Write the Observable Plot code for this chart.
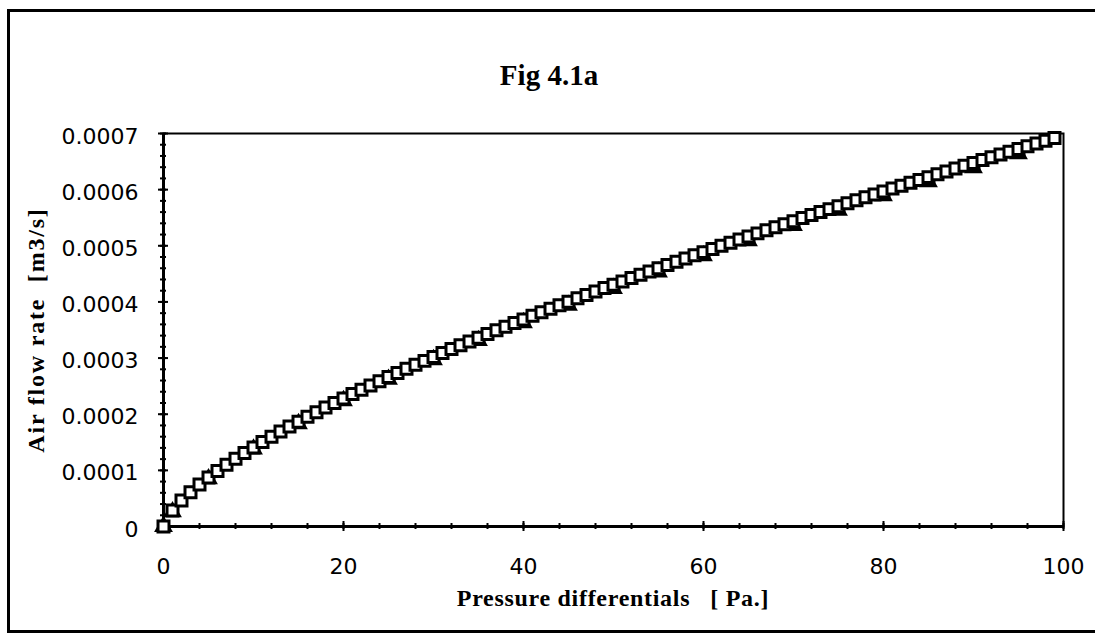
<!DOCTYPE html>
<html><head><meta charset="utf-8">
<script src="https://cdn.jsdelivr.net/npm/d3@7"></script>
<script src="https://cdn.jsdelivr.net/npm/@observablehq/plot@0.6"></script>
<style>
html,body{margin:0;padding:0;background:#fff;overflow:hidden;}
#wrap{position:relative;width:1098px;height:635px;overflow:hidden;background:#fff;}
.ln{position:absolute;background:#000;}
#title{position:absolute;left:0;width:1098px;top:59px;text-align:center;font:bold 29px "Liberation Serif";}
#xlabel{position:absolute;left:263px;width:700px;top:585px;text-align:center;font:bold 24px "Liberation Serif";letter-spacing:0.7px;white-space:pre;}
#ylabel{position:absolute;left:36px;top:330px;transform:translate(-50%,-50%) rotate(-90deg);font:bold 24px "Liberation Serif";letter-spacing:1.8px;white-space:pre;}
#chart{position:absolute;left:0;top:0;}
</style></head><body>
<div id="wrap">
<div class="ln" style="left:7px;top:9px;width:1088px;height:2.5px"></div>
<div class="ln" style="left:7px;top:9px;width:2.5px;height:623px"></div>
<div class="ln" style="left:7px;top:630px;width:1088px;height:2.5px"></div>
<div id="chart"></div>
<div id="title">Fig 4.1a</div>
<div id="xlabel">Pressure differentials   [ Pa.]</div>
<div id="ylabel">Air flow rate  [m3/s]</div>
</div>
<script>
const pressure = [0,1,2,3,4,5,6,7,8,9,10,11,12,13,14,15,16,17,18,19,20,21,22,23,24,25,26,27,28,29,30,31,32,33,34,35,36,37,38,39,40,41,42,43,44,45,46,47,48,49,50,51,52,53,54,55,56,57,58,59,60,61,62,63,64,65,66,67,68,69,70,71,72,73,74,75,76,77,78,79,80,81,82,83,84,85,86,87,88,89,90,91,92,93,94,95,96,97,98,99];
const flowModel = [0,0.285e-4,0.461e-4,0.611e-4,0.746e-4,0.871e-4,0.989e-4,1.100e-4,1.207e-4,1.310e-4,
1.409e-4,1.506e-4,1.600e-4,1.691e-4,1.780e-4,1.867e-4,1.953e-4,2.036e-4,2.119e-4,2.200e-4,
2.280e-4,2.359e-4,2.436e-4,2.512e-4,2.588e-4,2.662e-4,2.735e-4,2.808e-4,2.880e-4,2.950e-4,
3.021e-4,3.090e-4,3.160e-4,3.227e-4,3.295e-4,3.362e-4,3.429e-4,3.494e-4,3.559e-4,3.624e-4,
3.688e-4,3.752e-4,3.816e-4,3.878e-4,3.940e-4,4.003e-4,4.064e-4,4.125e-4,4.186e-4,4.247e-4,
4.306e-4,4.365e-4,4.425e-4,4.484e-4,4.543e-4,4.600e-4,4.659e-4,4.716e-4,4.773e-4,4.830e-4,
4.887e-4,4.944e-4,5.000e-4,5.056e-4,5.111e-4,5.166e-4,5.221e-4,5.277e-4,5.330e-4,5.385e-4,
5.439e-4,5.493e-4,5.547e-4,5.600e-4,5.653e-4,5.706e-4,5.758e-4,5.811e-4,5.863e-4,5.915e-4,
5.967e-4,6.020e-4,6.070e-4,6.121e-4,6.173e-4,6.223e-4,6.274e-4,6.325e-4,6.375e-4,6.425e-4,
6.476e-4,6.526e-4,6.575e-4,6.625e-4,6.674e-4,6.722e-4,6.773e-4,6.820e-4,6.871e-4,6.918e-4];
const pressureMeasured = [0,1,5,10,15,20,25,30,35,40,45,50,55,60,65,70,75,80,85,90,95];
const flowMeasured = [0,0.26e-4,0.85e-4,1.38e-4,1.83e-4,2.24e-4,2.62e-4,2.97e-4,3.31e-4,3.63e-4,3.94e-4,4.24e-4,4.53e-4,4.82e-4,5.09e-4,5.36e-4,5.63e-4,5.89e-4,6.14e-4,6.39e-4,6.64e-4];
const xTicks = [0,20,40,60,80,100];
const xMinor = [0,4,8,12,16,20,24,28,32,36,40,44,48,52,56,60,64,68,72,76,80,84,88,92,96,100];
const yTicks = [0,0.0001,0.0002,0.0003,0.0004,0.0005,0.0006,0.0007];
const yTickLabels = ["0","0.0001","0.0002","0.0003","0.0004","0.0005","0.0006","0.0007"];
const yMinor = [0,0.00002,0.00004,0.00006,0.00008,0.0001,0.00012,0.00014,0.00016,0.00018,0.0002,0.00022,0.00024,0.00026,0.00028,0.0003,0.00032,0.00034,0.00036,0.00038,0.0004,0.00042,0.00044,0.00046,0.00048,0.0005,0.00052,0.00054,0.00056,0.00058,0.0006,0.00062,0.00064,0.00066,0.00068,0.0007];

const model = pressure.map((p, i) => ({p, q: flowModel[i]}));
const measured = pressureMeasured.map((p, i) => ({p, q: flowMeasured[i]}));
const blank = () => "";

const chart = Plot.plot({
  width: 1098, height: 635,
  marginLeft: 163, marginRight: 35, marginTop: 133, marginBottom: 109,
  x: {domain: [0, 100], label: null},
  y: {domain: [0, 0.0007], label: null},
  style: {fontFamily: "DejaVu Sans", fontSize: "22px", color: "#000", background: "transparent", overflow: "visible"},
  marks: [
    Plot.frame({stroke: "#000", strokeWidth: 2}),
    Plot.axisX(xMinor, {tickSize: 6, dy: -3, tickFormat: blank, strokeWidth: 2, label: null}),
    Plot.axisX(xTicks, {tickSize: 10, dy: -5, tickFormat: blank, strokeWidth: 2, label: null}),
    Plot.axisX(xTicks, {tickSize: 0, tickPadding: 32, tickFormat: d => String(d), label: null}),
    Plot.axisY(yMinor, {tickSize: 6, dx: 3, tickFormat: blank, strokeWidth: 2, label: null}),
    Plot.axisY(yTicks, {tickSize: 10, dx: 5, tickFormat: blank, strokeWidth: 2, label: null}),
    Plot.axisY(yTicks, {tickSize: 0, tickPadding: 25, dy: 3, tickFormat: (d, i) => yTickLabels[i], label: null}),
    Plot.ruleY([0], {stroke: "#000", strokeWidth: 3}),
    Plot.ruleX([0], {stroke: "#000", strokeWidth: 3}),
    Plot.dot(measured, {x: "p", y: "q", symbol: "triangle", fill: "#000", r: 7}),
    Plot.dot(model, {x: "p", y: "q", symbol: "square", fill: "#fff", stroke: "#000", strokeWidth: 3, r: 6.2})
  ]
});
document.getElementById("chart").appendChild(chart);
</script>
</body></html>
